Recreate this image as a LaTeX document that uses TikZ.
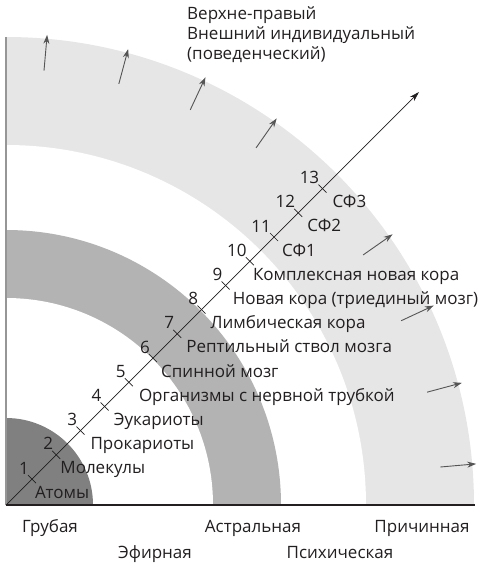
\documentclass[tikz,border=0pt]{standalone}
\usepackage{fontspec}
\setmainfont{Open Sans}
\usetikzlibrary{arrows.meta,calc}

\definecolor{inkdark}{RGB}{35,31,32}
\definecolor{zoneA}{RGB}{128,128,128}
\definecolor{zoneB}{RGB}{179,179,179}
\definecolor{zoneC}{RGB}{230,230,230}
\definecolor{arrowgrey}{RGB}{85,85,85}
\definecolor{axisgrey}{RGB}{150,150,150}

\tikzset{
  lbl/.style={text=inkdark, font=\fontsize{17}{20}\selectfont, inner sep=0pt},
  numlbl/.style={lbl, anchor=base east},
  desclbl/.style={lbl, anchor=base west},
  tickline/.style={draw=inkdark, line width=0.7pt},
  outarrow/.style={draw=arrowgrey, line width=0.9pt, -{Stealth[length=9pt,width=6pt]}},
}

\begin{document}
\begin{tikzpicture}[x=1pt,y=1pt,yscale=-1]
    \useasboundingbox (0,0) rectangle (482,567);
    \coordinate (O) at (6,505);
    
    % zones, painted from the outside in
    \foreach \r/\c in {468/zoneC, 360/white, 275/zoneB, 207/white, 87/zoneA}
      \fill[\c] (O) -- ++(0:\r) arc[start angle=0, end angle=-90, radius=\r] -- cycle;
    
    % axes
    \draw[axisgrey, line width=1.5pt] (O) -- (6,37);
    \draw[inkdark, line width=1.2pt] (O) -- (475,505);
    
    % small arrows in the outer zone
    \foreach \a in {5,15,25,35,55,65,75,85}
      \draw[outarrow] ($(O)+(-\a:436)$) -- ($(O)+(-\a:472)$);
    
    % main diagonal
    \coordinate (tip) at (419,92);
    \draw[inkdark, line width=0.7pt, -{Stealth[length=10pt,width=6pt]}] (O) -- (tip);
    
    % ticks with numbers and stages
    \foreach \k/\dx/\txt in {1/3/Атомы, 2/4/Молекулы, 3/10/Прокариоты, 4/9/Эукариоты,
        5/10/Организмы с нервной трубкой, 6/8/Спинной мозг, 7/9/Рептильный ствол мозга,
        8/9/Лимбическая кора, 9/7/Новая кора (триединый мозг), 10/3/Комплексная новая кора,
        11/8/СФ1, 12/9/СФ2, 13/10/СФ3}{
      \pgfmathsetmacro{\d}{26+(\k-1)*24.2}
      \coordinate (t\k) at ($(O)+(\d,-\d)$);
      \draw[tickline] ($(t\k)+(-4,-4)$) -- ($(t\k)+(4,4)$);
      \node[numlbl] (n\k) at ($(t\k)+(-3,-5)$) {\k};
      \node[desclbl] (d\k) at ($(t\k)+(\dx,19)$) {\txt};
    }
    
    % quadrant title
    \node[lbl, anchor=north west, align=left] (quad) at (187,6) {Верхне-правый\\Внешний индивидуальный\\(поведенческий)};
    
    % levels along the bottom
    \node[lbl, anchor=base] (gross) at (50,532) {Грубая};
    \node[lbl, anchor=base] (ether) at (155,558) {Эфирная};
    \node[lbl, anchor=base] (astral) at (253,532) {Астральная};
    \node[lbl, anchor=base] (psych) at (340,558) {Психическая};
    \node[lbl, anchor=base] (causal) at (422,532) {Причинная};
    
\end{tikzpicture}
\end{document}
